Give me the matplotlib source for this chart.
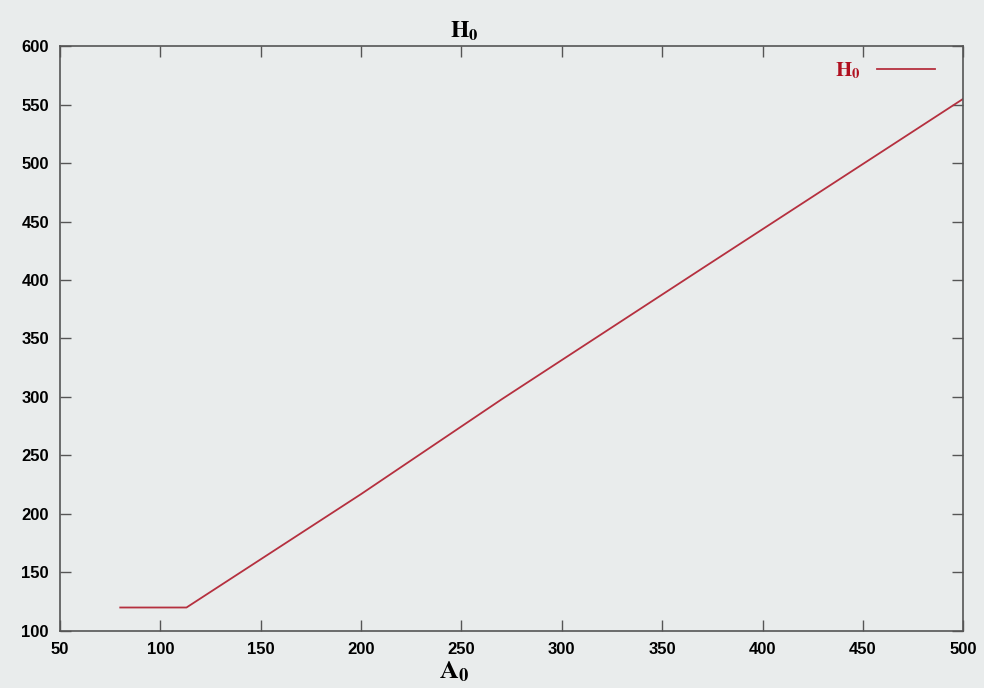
import numpy as np
import matplotlib.pyplot as plt

# H0 against A0
a0 = [80, 113, 200, 270, 370, 500]
h0 = [120, 120, 217, 298, 410, 555]

x_ticks = [50, 100, 150, 200, 250, 300, 350, 400, 450, 500]
y_ticks = [100, 150, 200, 250, 300, 350, 400, 450, 500, 550, 600]

plt.rcParams['mathtext.fontset'] = 'stix'
bg = '#e9ecec'

fig = plt.figure(figsize=(9.84, 6.88), dpi=100, facecolor=bg)
ax = fig.add_axes([0.061, 0.083, 0.918, 0.85], facecolor=bg)

ax.plot(a0, h0, color='#b5303f', lw=1.3, label=r'$\mathbf{H}_{\mathbf{0}}$')

ax.set_xlim(50, 500)
ax.set_ylim(100, 600)
ax.set_xticks(x_ticks)
ax.set_yticks(y_ticks)
ax.tick_params(direction='in', length=8, width=1, color='#555555',
               top=True, right=True, labelsize=12, pad=8)
for lab in ax.get_xticklabels() + ax.get_yticklabels():
    lab.set_family('Liberation Sans')
    lab.set_fontweight('bold')
for s in ax.spines.values():
    s.set_color('#555555')
    s.set_linewidth(1.2)

fig.text(0.472, 0.955, r'$\mathbf{H}_{\mathbf{0}}$', fontsize=17, ha='center', va='center')
fig.text(0.462, 0.024, r'$\mathbf{A}_{\mathbf{0}}$', fontsize=19, ha='center', va='center')

leg = ax.legend(loc='upper right', frameon=False, fontsize=15, handlelength=2.8,
                markerfirst=False, borderaxespad=0.3, bbox_to_anchor=(0.985, 1.0))
for t in leg.get_texts():
    t.set_color('#b01020')

fig.savefig('out.png', dpi=100, facecolor=bg)
